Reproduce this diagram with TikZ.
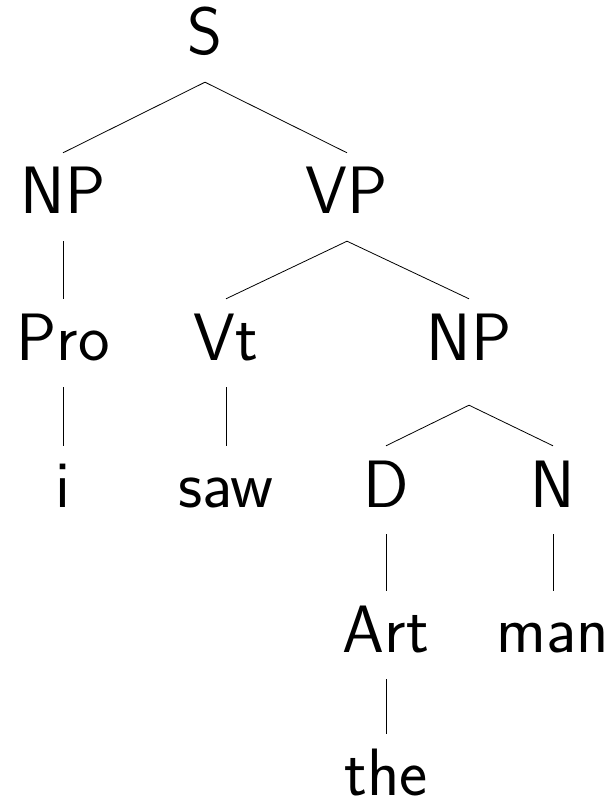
\documentclass[tikz,border=0pt]{standalone}
\usepackage{fontspec}
\begin{document}
\begin{tikzpicture}[x=1pt,y=-1pt,
  cat/.style={anchor=base, inner xsep=0pt, inner ysep=15pt, text height=46pt, text depth=12pt, font=\fontsize{67}{80}\selectfont\sffamily},
  branch/.style={draw, line width=0.8pt, -}]
\useasboundingbox (0,0) rectangle (611,799);
\node[cat] (s) at (205,55) {S};
\node[cat] (np1) at (63,214) {NP};
\node[cat] (vp) at (347,214) {VP};
\node[cat] (pro) at (63,360) {Pro};
\node[cat] (vt) at (226,360) {Vt};
\node[cat] (np2) at (469,360) {NP};
\node[cat] (i) at (63,507) {i};
\node[cat] (saw) at (226,507) {saw};
\node[cat] (d) at (386,507) {D};
\node[cat] (n) at (553,507) {N};
\node[cat] (art) at (386,652) {Art};
\node[cat] (man) at (553,652) {man};
\node[cat] (the) at (386,795) {the};
\path[branch] (s.south) -- (np1.north);
\path[branch] (s.south) -- (vp.north);
\path[branch] (np1.south) -- (pro.north);
\path[branch] (pro.south) -- (i.north);
\path[branch] (vp.south) -- (vt.north);
\path[branch] (vp.south) -- (np2.north);
\path[branch] (vt.south) -- (saw.north);
\path[branch] ([yshift=-18pt]np2.south) -- (d.north);
\path[branch] ([yshift=-18pt]np2.south) -- (n.north);
\path[branch] (d.south) -- (art.north);
\path[branch] (n.south) -- (man.north);
\path[branch] (art.south) -- (the.north);
\end{tikzpicture}
\end{document}
